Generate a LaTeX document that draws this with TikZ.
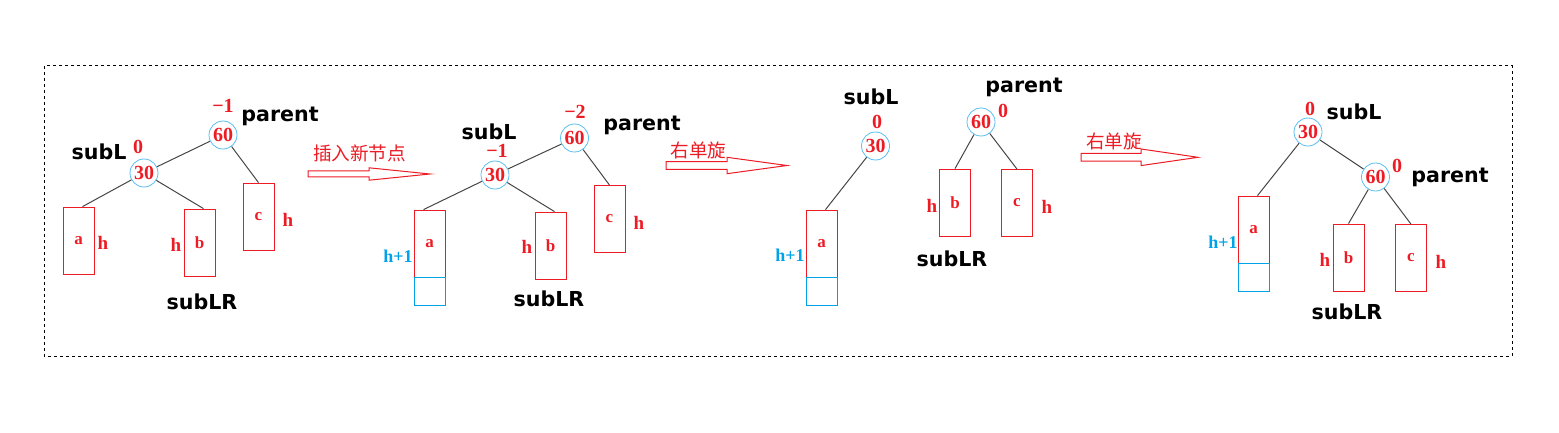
\documentclass[tikz,border=0pt]{standalone}
\usepackage{fontspec}
\setmainfont{Liberation Serif}
\newfontfamily\etf{DejaVu Sans}
\newfontfamily\cjk{Noto Sans CJK SC}
\usepackage{tikz}
\definecolor{rosu}{RGB}{237,28,36}
\definecolor{albastru}{RGB}{0,162,232}
\definecolor{cerc}{RGB}{90,190,240}
\definecolor{gri}{RGB}{70,70,70}

\begin{document}
\begin{tikzpicture}[x=0.5pt, y=-0.5pt]
        \tikzstyle{every node} = [inner sep=0pt]
        \tikzstyle{nod}  = [draw=cerc, circle, minimum size=14pt, text=rosu, font=\bfseries\fontsize{10}{10}\selectfont]
        \tikzstyle{cutie} = [draw=rosu, minimum width=15.5pt, minimum height=33.5pt, text=rosu, font=\bfseries\fontsize{8.5}{8.5}\selectfont]
        \tikzstyle{nou} = [draw=albastru, minimum width=15.5pt, minimum height=14pt, anchor=north]
        \tikzstyle{nume} = [font=\etf\bfseries\fontsize{10.3}{10.3}\selectfont]
        \tikzstyle{bal} = [text=rosu, font=\bfseries\fontsize{10}{10}\selectfont]
        \tikzstyle{inalt} = [text=rosu, font=\bfseries\fontsize{9.5}{9.5}\selectfont]
        \tikzstyle{inaltn} = [text=albastru, font=\bfseries\fontsize{9}{9}\selectfont]
        \tikzstyle{rot} = [text=rosu, font=\cjk\fontsize{9.3}{9.3}\selectfont]
        \tikzstyle{muchie} = [draw=gri, line width=0.5pt]

        \newcommand{\sageata}[6]{
            \draw[rosu, fill=white, line width=0.5pt] (#1,#4-#5) -- (#2,#4-#5) -- (#2,#4-#6) -- (#3,#4)
                -- (#2,#4+#6) -- (#2,#4+#5) -- (#1,#4+#5) -- cycle;
        }

        \useasboundingbox (0,0) rectangle (1559,433);
        \draw[black, line width=0.5pt, dash pattern=on 1.5pt off 1.5pt] (44,66) rectangle (1512,356);

        % step 1
        \node[nod] (p1) at (223,135) {60};
        \node[nod] (s1) at (144,173) {30};
        \node[cutie] (a1) at (78.5,240.5) {a};
        \node[cutie] (b1) at (199.5,242.5) {b};
        \node[cutie] (c1) at (258.5,216.5) {c};
        \draw[muchie] (p1) -- (s1);
        \draw[muchie] (s1) -- ([xshift=2pt]a1.north);
        \draw[muchie] (s1) -- ([xshift=2pt]b1.north);
        \draw[muchie] (p1) -- (c1.north);

        % step 2
        \node[nod] (p2) at (574.5,138) {60};
        \node[nod] (s2) at (495,175) {30};
        \node[cutie] (a2) at (429.5,243.5) {a};
        \node[nou] (n2) at (a2.south) {};
        \node[cutie] (b2) at (550.5,245.5) {b};
        \node[cutie] (c2) at (609.5,219) {c};
        \draw[muchie] (p2) -- (s2);
        \draw[muchie] (s2) -- ([xshift=-3pt]a2.north);
        \draw[muchie] (s2) -- ([xshift=2pt]b2.north);
        \draw[muchie] (p2) -- (c2.north);

        % step 3
        \node[nod] (s3) at (875.5,146) {30};
        \node[cutie] (a3) at (821.5,243.5) {a};
        \node[nou] (n3) at (a3.south) {};
        \node[nod] (p3) at (981,122) {60};
        \node[cutie] (b3) at (955,202.5) {b};
        \node[cutie] (c3) at (1017,203) {c};
        \draw[muchie] (s3) -- ([xshift=2pt]a3.north);
        \draw[muchie] (p3) -- (b3.north);
        \draw[muchie] (p3) -- (c3.north);

        % step 4
        \node[nod] (s4) at (1308,132) {30};
        \node[nod] (p4) at (1375.5,177) {60};
        \node[cutie] (a4) at (1253.5,229.5) {a};
        \node[nou] (n4) at (a4.south) {};
        \node[cutie] (b4) at (1348.5,257.5) {b};
        \node[cutie] (c4) at (1411,258) {c};
        \draw[muchie] (s4) -- (p4);
        \draw[muchie] (s4) -- ([xshift=2pt]a4.north);
        \draw[muchie] (p4) -- (b4.north);
        \draw[muchie] (p4) -- (c4.north);

        \foreach[count=\c] \x/\y/\t in {280/116/parent,99/152/subL,202/302/subLR,
                642/125/parent,489/132/subL,549/299/subLR,
                1024/87/parent,871/97/subL,952/259/subLR,
                1450/177/parent,1354/112/subL,1347/312/subLR}
            \node[nume] (nume\c) at (\x,\y) {\t};

        \foreach[count=\c] \x/\y/\t in {223/106/−1,138/147/0,575/112/−2,497/151/−1,
                877/122/0,1003/111/0,1310/109/0,1397/166/0}
            \node[bal] (bal\c) at (\x,\y) {\t};

        \foreach[count=\c] \x/\y in {103/243,176/245,288/220,527/247,639/223,
                932/206,1047/207,1325/260,1441/262}
            \node[inalt] (h\c) at (\x,\y) {h};

        \foreach[count=\c] \x/\y in {398/256,790/255,1223/242}
            \node[inaltn] (hn\c) at (\x,\y) {h+1};

        \sageata{308}{369}{430}{174}{3}{6.2}
        \sageata{666}{727}{787}{165.5}{3.8}{8.2}
        \sageata{1081}{1141}{1198}{157.3}{3.8}{8.3}
        \node[rot] (r1) at (359.5,153) {插入新节点};
        \node[rot] (r2) at (698.5,150) {右单旋};
        \node[rot] (r3) at (1114,141) {右单旋};
    \end{tikzpicture}
\end{document}
